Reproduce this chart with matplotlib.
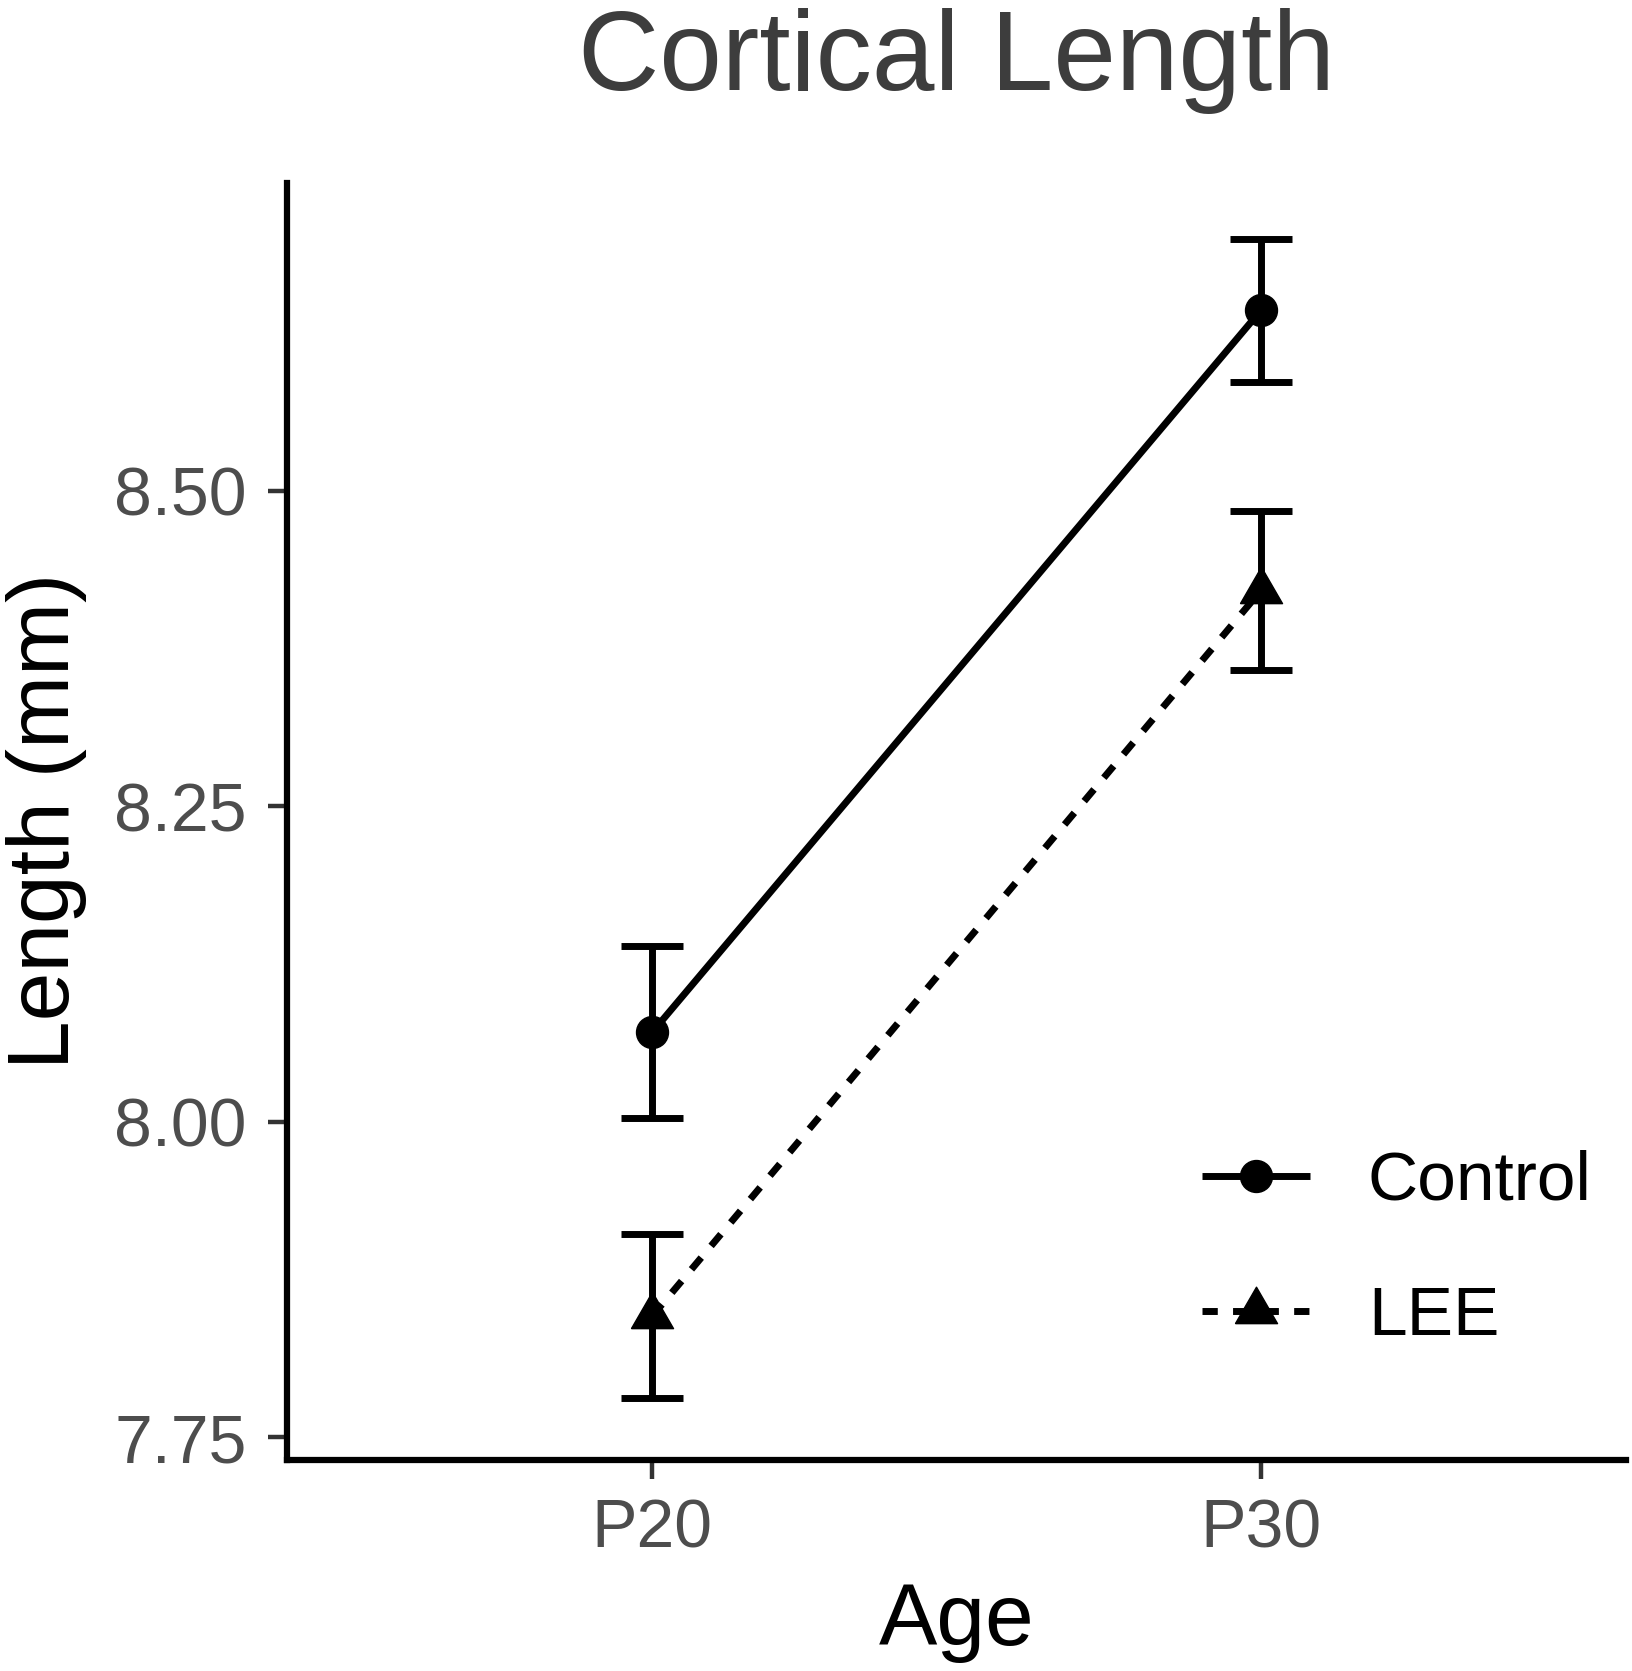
import matplotlib
matplotlib.use("Agg")
import matplotlib.pyplot as plt
import numpy as np

# ---- data ----
ages = ["P20", "P30"]
groups = ["Control", "LEE"]
control_mean = [8.071, 8.643]
control_se = [0.068, 0.057]
lee_mean = [7.846, 8.421]
lee_se = [0.065, 0.063]
yticks = [7.75, 8.00, 8.25, 8.50]
ytick_labels = ["7.75", "8.00", "8.25", "8.50"]

W, H = 1633, 1671
DPI = 100
plt.rcParams['font.family'] = ['Liberation Sans', 'DejaVu Sans']

fig = plt.figure(figsize=(W / DPI, H / DPI), dpi=DPI)
ax_left, ax_right = 287 / W, 1626 / W
ax_top, ax_bot = 1 - 183 / H, 1 - 1460 / H
ax = fig.add_axes([ax_left, ax_bot, ax_right - ax_left, ax_top - ax_bot])

x = np.arange(1, len(ages) + 1)
lw = 5.0
# equilateral triangle centred on its centroid
tri = [(-1, -0.577), (1, -0.577), (0, 1.155), (-1, -0.577)]

ax.errorbar(x, control_mean, yerr=control_se, fmt='none', ecolor='black',
            elinewidth=lw, capsize=22, capthick=lw, zorder=2)
ax.errorbar(x, lee_mean, yerr=lee_se, fmt='none', ecolor='black',
            elinewidth=lw, capsize=22, capthick=lw, zorder=2)
l1, = ax.plot(x, control_mean, color='black', lw=lw, marker='o', markersize=23,
              solid_capstyle='butt', label=groups[0], zorder=3)
l2, = ax.plot(x, lee_mean, color='black', lw=lw, marker=tri, markersize=35,
              linestyle=(0, (2.2, 2.2)), dash_capstyle='butt', label=groups[1], zorder=3)

ax.set_xlim(0.4, 2.6)
ax.set_ylim(7.732, 8.744)
ax.set_xticks(x)
ax.set_xticklabels(ages)
ax.set_yticks(yticks)
ax.set_yticklabels(ytick_labels)

for s in ['top', 'right']:
    ax.spines[s].set_visible(False)
for s in ['left', 'bottom']:
    ax.spines[s].set_linewidth(4.5)
    ax.spines[s].set_color('black')
    ax.spines[s].set_capstyle('projecting')

ax.tick_params(axis='both', length=14, width=3.2, color='#333333',
               labelsize=49, labelcolor='#4D4D4D')
ax.tick_params(axis='x', pad=13)
ax.tick_params(axis='y', pad=15)

fig.text((ax_left + ax_right) / 2, 1 - 90 / H, "Cortical Length", ha='center',
         va='baseline', fontsize=81, color='#3D3D3D')
fig.text((ax_left + ax_right) / 2, 1 - 1645 / H, "Age", ha='center', va='baseline',
         fontsize=63, color='black')
fig.text(47 / W, 1 - 821 / H, "Length (mm)", ha='center', va='center', rotation=90,
         fontsize=63, color='black')

leg = fig.legend(handles=[l1, l2], labels=groups, loc='upper left',
                 bbox_to_anchor=(1202 / W, 1 - 1150 / H), frameon=False,
                 fontsize=50, handlelength=1.56, handletextpad=0.83,
                 labelspacing=1.02, borderpad=0, borderaxespad=0)

fig.savefig("out.png", dpi=DPI)
